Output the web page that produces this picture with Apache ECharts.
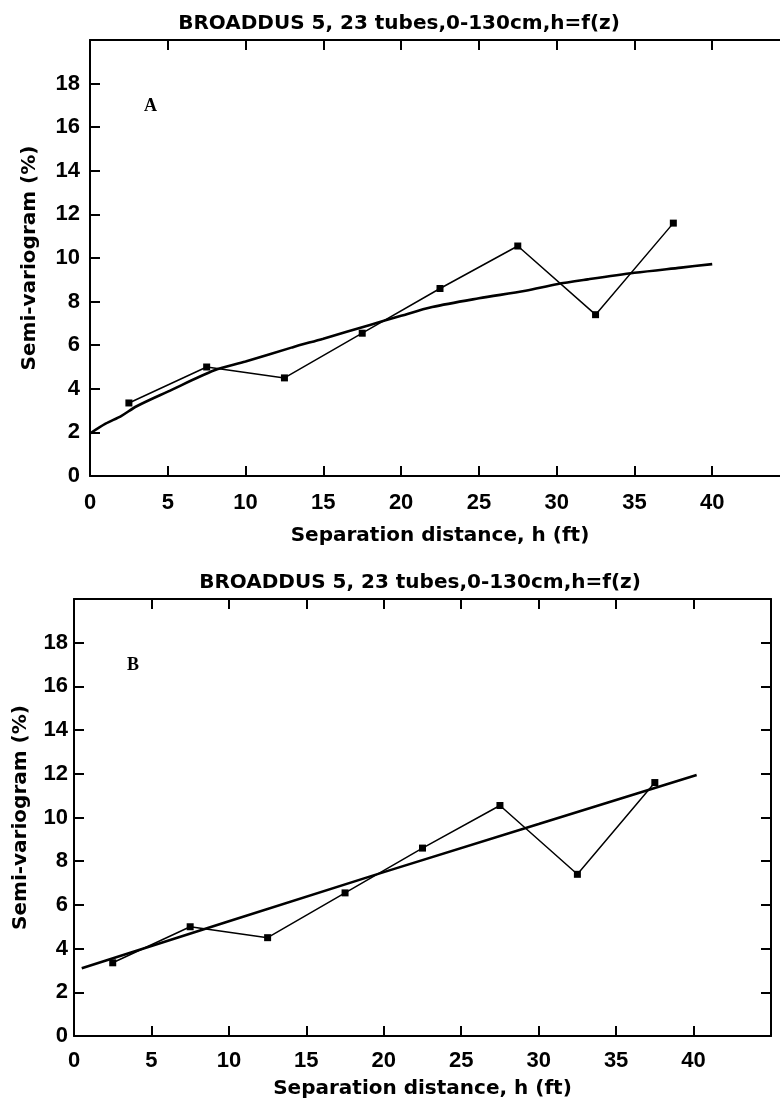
<!DOCTYPE html>
<html>
<head>
<meta charset="utf-8">
<script src="https://cdn.jsdelivr.net/npm/echarts@6/dist/echarts.min.js"></script>
<style>
html,body{margin:0;padding:0;background:#fff;}
#c{width:780px;height:1102px;}
</style>
</head>
<body>
<div id="c"></div>
<script>
// ---- data ----
const chartTitle = 'BROADDUS 5, 23 tubes,0-130cm,h=f(z)';
const xName = 'Separation distance, h (ft)';
const yName = 'Semi-variogram (%)';
const panelLabels = ['A', 'B'];
// experimental semi-variogram (same in both panels)
const hLag = [2.5, 7.5, 12.5, 17.5, 22.5, 27.5, 32.5, 37.5];
const gammaObs = [3.35, 5.0, 4.5, 6.55, 8.6, 10.55, 7.4, 11.6];
// fitted model, panel A (curved)
const hFitA = [0, 1, 2, 3, 5, 8, 10, 13, 15, 18, 20, 22, 25, 28, 30, 32, 35, 38, 40];
const gammaFitA = [1.95, 2.4, 2.75, 3.2, 3.87, 4.85, 5.25, 5.9, 6.3, 6.93, 7.35, 7.75, 8.15, 8.5, 8.8, 9.02, 9.32, 9.56, 9.72];
// fitted model, panel B (linear)
const hFitB = [0.5, 10, 20, 30, 40.2];
const gammaFitB = [3.1, 5.25, 7.5, 9.7, 11.95];
// axes
const xMin = 0, xMax = 45, xStep = 5;
const yMin = 0, yMax = 20, yStep = 2;

const pair = (xs, ys) => xs.map((x, i) => [x, ys[i]]);
const FONT = 'DejaVu Sans';
const TICKFONT = 'Liberation Sans';
const black = '#000';

const grids = [
  {left: 90, top: 40, width: 700, height: 436, outerBoundsMode: 'none', containLabel: false},
  {left: 74, top: 599, width: 697, height: 437, outerBoundsMode: 'none', containLabel: false}
];
const layout = [
  {yLabelMargin: 10, yNameGap: 50, xLabelMargin: 16, xNameGap: 50, titleX: 394, titleY: 9, lab: [150, 108]},
  {yLabelMargin: 6, yNameGap: 43, xLabelMargin: 14, xNameGap: 43, titleX: 415, titleY: 568, lab: [133, 667]}
];

const xAxes = [], yAxes = [], series = [], titles = [], graphics = [];
grids.forEach((g, i) => {
  const L = layout[i];
  const lineStyle = {color: black, width: 2};
  const tick = {show: true, inside: true, length: 10, lineStyle: {color: black, width: 2}};
  const tickLabel = {color: black, fontFamily: TICKFONT, fontWeight: 'bold', fontSize: 22};
  xAxes.push({
    type: 'value', gridIndex: i, min: xMin, max: xMax, interval: xStep, position: 'bottom',
    axisLine: {show: true, onZero: false, lineStyle}, axisTick: tick, splitLine: {show: false},
    axisLabel: Object.assign({show: true, margin: L.xLabelMargin, showMaxLabel: false}, tickLabel),
    name: xName, nameLocation: 'middle', nameGap: L.xNameGap,
    nameTextStyle: {color: black, fontFamily: FONT, fontWeight: 'bold', fontSize: 20}
  });
  xAxes.push({
    type: 'value', gridIndex: i, min: xMin, max: xMax, interval: xStep, position: 'top',
    axisLine: {show: true, onZero: false, lineStyle}, axisTick: tick, splitLine: {show: false},
    axisLabel: {show: false}
  });
  yAxes.push({
    type: 'value', gridIndex: i, min: yMin, max: yMax, interval: yStep, position: 'left',
    axisLine: {show: true, onZero: false, lineStyle}, axisTick: tick, splitLine: {show: false},
    axisLabel: Object.assign({show: true, margin: L.yLabelMargin, showMaxLabel: false}, tickLabel),
    name: yName, nameLocation: 'middle', nameGap: L.yNameGap, nameRotate: 90,
    nameTextStyle: {color: black, fontFamily: FONT, fontWeight: 'bold', fontSize: 20}
  });
  yAxes.push({
    type: 'value', gridIndex: i, min: yMin, max: yMax, interval: yStep, position: 'right',
    axisLine: {show: true, onZero: false, lineStyle}, axisTick: tick, splitLine: {show: false},
    axisLabel: {show: false}
  });
  series.push({
    type: 'line', xAxisIndex: 2 * i, yAxisIndex: 2 * i,
    data: pair(i === 0 ? hFitA : hFitB, i === 0 ? gammaFitA : gammaFitB),
    showSymbol: false, symbol: 'none', smooth: i === 0 ? 0.3 : false,
    lineStyle: {color: black, width: 2.6}, silent: true, z: 3
  });
  series.push({
    type: 'line', xAxisIndex: 2 * i, yAxisIndex: 2 * i,
    data: pair(hLag, gammaObs),
    symbol: 'rect', symbolSize: 7, showSymbol: true,
    itemStyle: {color: black},
    lineStyle: {color: black, width: 1.5}, silent: true, z: 4
  });
  titles.push({
    text: chartTitle, left: L.titleX, top: L.titleY, textAlign: 'center',
    textStyle: {color: black, fontFamily: FONT, fontWeight: 'bold', fontSize: 20}
  });
  graphics.push({
    type: 'text', left: L.lab[0] - 6, top: L.lab[1] - 11,
    style: {text: panelLabels[i], fill: black, font: 'bold 18px "Liberation Serif", "DejaVu Serif", serif'}
  });
});

const chart = echarts.init(document.getElementById('c'), null, {renderer: 'canvas'});
chart.setOption({
  backgroundColor: '#fff',
  animation: false,
  title: titles,
  grid: grids,
  xAxis: xAxes,
  yAxis: yAxes,
  series: series,
  graphic: graphics
});
</script>
</body>
</html>
